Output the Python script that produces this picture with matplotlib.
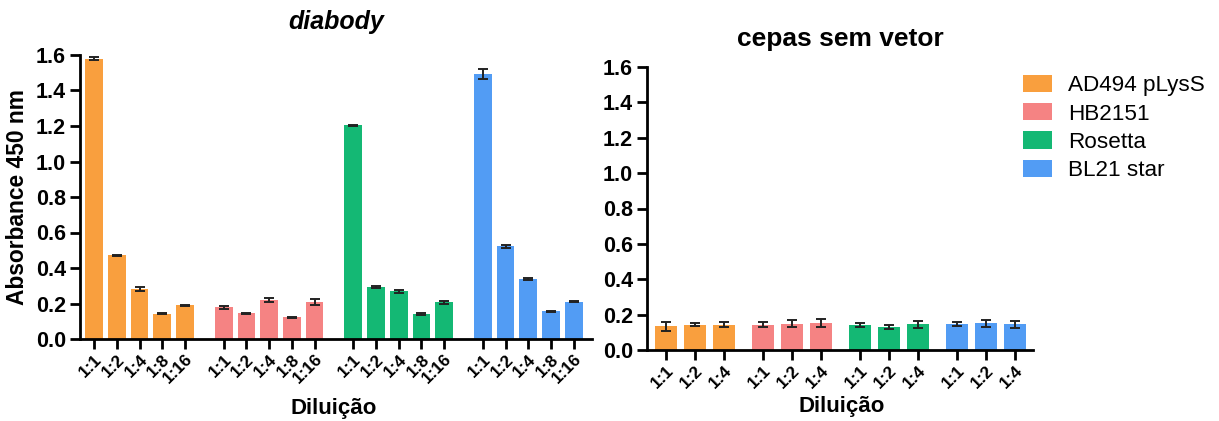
import numpy as np
import matplotlib
matplotlib.use('Agg')
import matplotlib.pyplot as plt
from matplotlib.patches import Patch

plt.rcParams['font.family'] = ['Liberation Sans', 'DejaVu Sans']

strains = ['AD494 pLysS', 'HB2151', 'Rosetta', 'BL21 star']
colors = ['#F99F3E', '#F58383', '#14B874', '#529CF4']

dil_left = ['1:1', '1:2', '1:4', '1:8', '1:16']
dil_right = ['1:1', '1:2', '1:4']

# diabody
diab_mean = [
    [1.58, 0.471, 0.281, 0.143, 0.19],
    [0.178, 0.146, 0.218, 0.122, 0.208],
    [1.203, 0.293, 0.268, 0.141, 0.206],
    [1.493, 0.522, 0.34, 0.156, 0.21],
]
diab_err = [
    [0.01, 0.004, 0.01, 0.003, 0.004],
    [0.01, 0.003, 0.012, 0.004, 0.015],
    [0.004, 0.004, 0.01, 0.003, 0.008],
    [0.03, 0.008, 0.005, 0.003, 0.004],
]

# cepas sem vetor
sv_mean = [
    [0.133, 0.143, 0.143],
    [0.144, 0.148, 0.153],
    [0.14, 0.13, 0.146],
    [0.146, 0.15, 0.146],
]
sv_err = [
    [0.023, 0.01, 0.015],
    [0.015, 0.02, 0.025],
    [0.01, 0.01, 0.02],
    [0.01, 0.02, 0.02],
]

fig = plt.figure(figsize=(12.19, 4.21), dpi=100)
ax1 = fig.add_axes([80 / 1219, 82 / 421, 512 / 1219, 284 / 421])
ax2 = fig.add_axes([647 / 1219, 71 / 421, 386 / 1219, 283 / 421])


def draw(ax, means, errs, labels, step, xlim):
    xs, names = [], []
    for g in range(len(means)):
        pos = g * step + np.arange(len(labels))
        ax.bar(pos, means[g], width=0.78, color=colors[g], edgecolor='none', zorder=2)
        ax.errorbar(pos, means[g], yerr=errs[g], fmt='none', ecolor='#222222',
                    elinewidth=1.4, capsize=3.6, capthick=1.4, zorder=3)
        xs.extend(pos)
        names.extend(labels)
    ax.set_xticks(xs)
    ax.set_xticklabels(names, rotation=45, ha='right', va='top',
                       rotation_mode='anchor', fontsize=12.3, fontweight='bold')
    ax.set_xlim(*xlim)
    ax.set_ylim(0, 1.6)
    ax.set_yticks(np.arange(0, 1.61, 0.2))
    ax.set_yticklabels(['%.1f' % v for v in np.arange(0, 1.61, 0.2)],
                       fontsize=15.5, fontweight='bold')
    for s in ['top', 'right']:
        ax.spines[s].set_visible(False)
    for s in ['left', 'bottom']:
        ax.spines[s].set_linewidth(2)
    ax.tick_params(direction='out', length=7, width=2, pad=3)
    ax.tick_params(axis='x', pad=2)
    ax.set_xlabel('Diluição', fontsize=16, fontweight='bold', va='top')


draw(ax1, diab_mean, diab_err, dil_left, 5.7, (-0.62, 21.9))
draw(ax2, sv_mean, sv_err, dil_right, 3.34, (-0.65, 12.64))
ax1.xaxis.set_label_coords(0.495, (421 - 398 - 82) / 284)
ax2.xaxis.set_label_coords(0.505, (421 - 396 - 71) / 283)

ax1.set_ylabel('Absorbance 450 nm', fontsize=16.4, fontweight='bold', labelpad=5)
ax1.set_title('diabody', fontsize=18, fontweight='bold', style='italic', pad=19)
ax2.set_title('cepas sem vetor', fontsize=19, fontweight='bold', pad=15)

handles = [Patch(facecolor=c, edgecolor='none') for c in colors]
fig.legend(handles, strains, loc='upper left', bbox_to_anchor=(1014 / 1219, 1 - 66 / 421),
           frameon=False, fontsize=16.2, handlelength=1.3, handleheight=0.8,
           labelspacing=0.3, handletextpad=0.7, borderaxespad=0)

fig.savefig('out.png', dpi=100)
